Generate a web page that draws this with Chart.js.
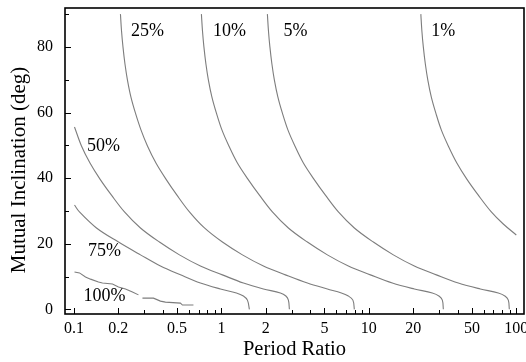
<!DOCTYPE html>
<html><head><meta charset="utf-8">
<script src="https://cdn.jsdelivr.net/npm/chart.js@4.4.1/dist/chart.umd.min.js"></script>
<style>html,body{margin:0;padding:0;background:#fff}#wrap{width:526px;height:362px}</style>
</head><body><div id="wrap"><canvas id="c" width="526" height="362"></canvas></div>
<script>
const xTickValues = [0.1, 0.2, 0.5, 1, 2, 5, 10, 20, 50, 100];
const xTickLabels = ['0.1', '0.2', '0.5', '1', '2', '5', '10', '20', '50', '100'];
const yTickValues = [0, 20, 40, 60, 80];
const yTickLabels = ['0', '20', '40', '60', '80'];
const xTitle = 'Period Ratio';
const yTitle = 'Mutual Inclination (deg)';

const curveNames = ['100%', '75%', '50%', '25%', '10%', '5%', '1%'];

const ratio100 = [0.1008, 0.109, 0.1197, 0.1294, 0.1466, 0.156, 0.1824, 0.2003, 0.2235, 0.2492, 0.2737, 0.28, 0.2913, 0.346, 0.386, 0.417, 0.527, 0.544, 0.646];
const incl100  = [11.4, 11.1, 9.85, 9.2, 8.3, 8.0, 7.7, 6.8, 6.2, 5.3, 4.4, null, 3.4, 3.4, 2.5, 2.2, 1.9, 1.3, 1.3];

const ratio75 = [0.1008, 0.1089, 0.1421, 0.2003, 0.2824, 0.3859, 0.5273, 0.7203, 0.9845, 1.2639, 1.4098, 1.5008, 1.548];
const incl75  = [31.8, 29.7, 24.8, 20.5, 16.6, 13.2, 10.5, 8.0, 6.2, 5.0, 4.05, 2.8, 0.0];

const ratio50 = [0.1008, 0.1124, 0.1284, 0.1501, 0.1796, 0.2200, 0.2824, 0.3799, 0.5191, 0.7203, 1.0157, 1.4098, 1.9267, 2.512, 2.737, 2.846, 2.891];
const incl50  = [55.6, 49.8, 44.6, 39.7, 34.8, 29.7, 24.8, 20.5, 16.6, 13.2, 10.5, 8.0, 6.2, 5.0, 4.05, 2.8, 0.0];

const ratio25 = [0.2066, 0.2099, 0.2149, 0.2217, 0.2305, 0.2434, 0.2612, 0.2846, 0.3150, 0.3597, 0.4204, 0.4993, 0.6068, 0.7671, 1.0157, 1.3883, 1.9267, 2.7164, 3.8298, 5.232, 6.510, 7.262, 7.792, 7.974];
const incl25  = [90.0, 85.1, 80.0, 74.8, 69.9, 64.7, 59.8, 54.7, 49.8, 44.6, 39.7, 34.8, 29.7, 24.8, 20.5, 16.6, 13.2, 10.5, 8.0, 6.2, 5.0, 4.05, 2.8, 0.0];

const ratio10 = [0.7315, 0.7433, 0.7607, 0.7850, 0.8161, 0.8621, 0.9249, 1.0077, 1.1240, 1.2835, 1.5122, 1.8102, 2.2166, 2.8453, 3.8287, 5.231, 7.261, 10.24, 14.43, 20.35, 26.94, 30.04, 31.51, 32.01];
const incl10  = [90.0, 85.1, 80.0, 74.8, 69.9, 64.7, 59.8, 54.7, 49.8, 44.6, 39.7, 34.8, 29.7, 24.8, 20.5, 16.6, 13.2, 10.5, 8.0, 6.2, 5.0, 4.0, 2.8, 0.0];

const ratio5 = [2.05, 2.083, 2.132, 2.200, 2.287, 2.416, 2.592, 2.824, 3.150, 3.597, 4.238, 5.073, 6.212, 7.974, 10.73, 14.66, 20.35, 28.69, 40.45, 57.02, 75.5, 84.2, 88.3, 89.7];
const incl5  = [90.0, 85.1, 80.0, 74.8, 69.9, 64.7, 59.8, 54.7, 49.8, 44.6, 39.7, 34.8, 29.7, 24.8, 20.5, 16.6, 13.2, 10.5, 8.0, 6.2, 5.0, 4.0, 2.8, 0.0];

const ratio1 = [22.52, 22.87, 23.41, 24.16, 25.12, 26.53, 28.47, 31.00, 34.58, 39.51, 46.18, 55.26, 67.70, 81.6, 100];
const incl1  = [90.0, 85.1, 80.0, 74.8, 69.9, 64.7, 59.8, 54.7, 49.8, 44.6, 39.7, 34.8, 29.7, 26.0, 22.65];

const labelRatio = [0.161, 0.161, 0.1585, 0.315, 1.133, 3.175, 32.0];
const labelIncl  = [4.05, 17.8, 49.8, 84.8, 84.8, 84.8, 84.8];

const allRatios = [ratio100, ratio75, ratio50, ratio25, ratio10, ratio5, ratio1];
const allIncls  = [incl100, incl75, incl50, incl25, incl10, incl5, incl1];

const FONT = '"Liberation Serif", "Times New Roman", serif';

const datasets = curveNames.map((name, i) => ({
  label: name,
  data: allRatios[i].map((r, j) => ({x: r, y: allIncls[i][j]})),
  showLine: true,
  borderColor: '#7d7d7d',
  borderWidth: 1.1,
  pointRadius: 0,
  fill: false,
  tension: i === 0 ? 0 : 0.35,
  spanGaps: false
}));

const decor = {
  id: 'decor',
  afterDatasetsDraw(chart) {
    const {ctx, chartArea: a, scales: {x, y}} = chart;
    ctx.save();
    ctx.strokeStyle = '#000';
    ctx.lineWidth = 1;
    ctx.beginPath();
    for (let k = -1; k <= 2; k++) {
      for (let m = 1; m <= 9; m++) {
        const v = m * Math.pow(10, k);
        if (v > x.max) continue;
        const px = Math.round(x.getPixelForValue(v)) + 0.5;
        const major = xTickValues.some(t => Math.abs(t - v) < 1e-9);
        const len = major ? 6 : 4;
        ctx.moveTo(px, a.bottom);
        ctx.lineTo(px, a.bottom - len);
      }
    }
    for (let v = 0; v <= 90; v += 10) {
      const py = Math.round(y.getPixelForValue(v)) + 0.5;
      const len = v % 20 === 0 ? 6 : 4;
      ctx.moveTo(a.left, py);
      ctx.lineTo(a.left + len, py);
    }
    ctx.stroke();
    ctx.lineWidth = 1.6;
    ctx.strokeRect(a.left, a.top, a.right - a.left, a.bottom - a.top);
    ctx.fillStyle = '#000';
    ctx.font = '18px ' + FONT;
    ctx.textAlign = 'center';
    ctx.textBaseline = 'middle';
    curveNames.forEach((name, i) => {
      ctx.fillText(name, x.getPixelForValue(labelRatio[i]), y.getPixelForValue(labelIncl[i]));
    });
    // y-axis title, placed from the axis scale extent
    ctx.font = '21px ' + FONT;
    ctx.translate(a.left - 46, (a.top + a.bottom) / 2 + 9);
    ctx.rotate(-Math.PI / 2);
    ctx.fillText(yTitle, 0, 0);
    ctx.restore();
  }
};

function findLabel(vals, labels, v) {
  const i = vals.findIndex(t => Math.abs(t - v) < 1e-9 * Math.max(1, Math.abs(t)));
  return i >= 0 ? labels[i] : '';
}

new Chart(document.getElementById('c'), {
  type: 'scatter',
  data: {datasets},
  options: {
    responsive: false,
    animation: false,
    devicePixelRatio: 1,
    layout: {padding: {top: 8, right: 2, left: 0, bottom: 0}},
    plugins: {legend: {display: false}, tooltip: {enabled: false}},
    elements: {point: {radius: 0}},
    scales: {
      x: {
        type: 'logarithmic',
        min: 0.0869,
        max: 112.8,
        grid: {display: false, drawTicks: false},
        border: {display: false},
        afterBuildTicks(s) { s.ticks = xTickValues.map(v => ({value: v})); },
        afterFit(s) { s.height = 48; s.paddingLeft = 0; s.paddingRight = 0; },
        ticks: {
          autoSkip: false, maxRotation: 0, minRotation: 0, padding: 5, color: '#000',
          font: {family: FONT, size: 16},
          callback: (v) => findLabel(xTickValues, xTickLabels, v)
        },
        title: {display: true, text: xTitle, color: '#000', font: {family: FONT, size: 20.5}, padding: {top: 0, bottom: 0}}
      },
      y: {
        type: 'linear',
        min: -1.43,
        max: 91.86,
        grid: {display: false, drawTicks: false},
        border: {display: false},
        afterBuildTicks(s) { s.ticks = yTickValues.map(v => ({value: v})); },
        afterFit(s) { s.width = 65; s.paddingTop = 0; s.paddingBottom = 0; },
        ticks: {
          autoSkip: false, padding: 12, color: '#000',
          font: {family: FONT, size: 16},
          callback: (v) => findLabel(yTickValues, yTickLabels, v)
        },
        title: {display: false}
      }
    }
  },
  plugins: [decor]
});
</script>
</body></html>
